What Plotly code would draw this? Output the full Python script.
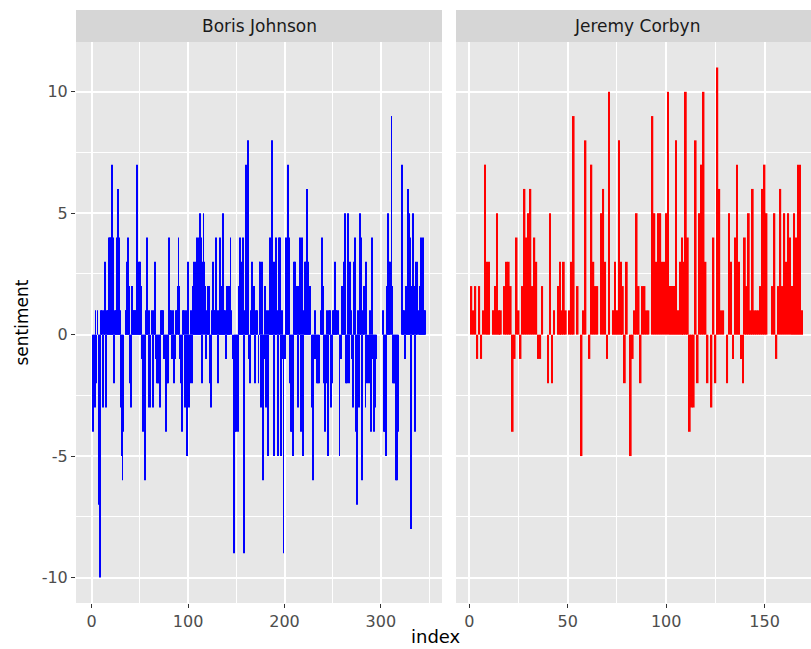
import plotly.graph_objects as go

# ---------------- data ----------------
facet_labels = ["Boris Johnson", "Jeremy Corbyn"]
bar_colors = ["blue", "red"]

boris_sentiment = [
    -4, -2, -3, 1, -2, 1, -3, -7, -10, 1,
    1, -3, 1, 3, -3, 1, 1, 4, 4, 4,
    7, 4, -2, 1, 1, 4, 6, 4, 1, -3,
    -5, -6, -4, 0, 1, 1, 3, 4, 2, -2,
    -3, 2, 1, 1, 1, 1, 7, 1, 3, 3,
    2, -1, -4, -1, -6, 1, 4, 1, -3, 1,
    -3, 1, 1, -3, 1, 3, -1, -2, -2, -2,
    -3, 1, 1, 1, -1, -1, -4, -2, -2, 4,
    1, 1, -1, 1,
    -2, -1, 1, 1, 2, 4,
    2, -1, -2, -4, 1, 1, -3, 1, -5, 3,
    -3, -2, 1, -2, 2, 3, 2, 3, 4, 3,
    4, 5, 4, -2, 3, 5, 3, 2, -1, 1,
    2, 2, -2, -3, 1, 3, 1, 1, 4, 1,
    -2, 1, 4, 2, 1, 5, 1, 1, -1, 2,
    1, 2, 2, 4, 1, -1, 0, -9, -4, -4,
    -3, -4, 2, 4, 3, 1, 4, -9, 1, 7,
    2, 8, -1, -2, 1, 3, 2, 2, -2, 1,
    1, 1, -2, 3, 3, -3, 3, -6, -1, 2,
    -3, 1, -5, 1, 4, 1, 8, 3, -5, 3,
    4, 1, -5, 4, 4, -5, 1, -1, -9, -1,
    -1, 4, 1, 7, 4, -2, -4, -4, -5, 3,
    3, 2, 2, -3, 2, 4, -4, 4, -5, 1,
    3, 3, 6, 3, 2, 2, 2, -3, -3, -6,
    -1, 1, -1, -2, -2, -2, 0, 1, 4, 2,
    -2, -4, -2, 1, -5, 1, 1, -3, -2, 1,
    1, 3, 1, 1, 1, 1, -5, -1, -1, 2,
    2, 3, 5, -2, -2, 5, -2, 3, 1, -1,
    -3, 3, 4, -4, -7, 1, -3, 5, 4, -6,
    1, 2, 2, -3, 3, -2, 0, -2, 1, -4,
    4, -1, -4, -3, -1, 0, 0, 0, 0, 0,
    0, 1, -4, -4, -5, 2, 5, 3, 3, 3,
    9, 2, -2, -2, -2, -6, -6, -4, 0, 0,
    0, 7, 1, 1, -1, 2, 1, 6, 5, 4,
    -8, 2, 5, 2, -4, 3, 2, 3, 1, 1,
    2, 4, 1, 4, 1, 1,
]

corbyn_sentiment = [
    2, 1, 2, -1, 2, -1, 1, 7, 3, 3,
    0, 1, 2, 5, 1, 1, 0, 2, 3, 3,
    2, -4, -1, 4, 1, -1, 2, 6, 4, 5,
    6, 2, 4, 3, -1, -1, 2, 0, 0, -2,
    5, -2, 1, 0, 2, 3, 1, 3, 1, 0,
    1, 3, 9, 0, 2, 0, -5, 1, 8, 0,
    -1, 7, 3, 2, 2, 0, 5, 6, 3, -1,
    10, 0, 1, 3, 1, 8, 3, 2, -2, 3,
    0, -5, -1, 1, 5, 2, -2, 2, 2, 1,
    1, 0, 9, 5, 3, 5, 5, 3, 3, 5,
    10, 2, 2, 2, 8, 1, 3, 4, 3, 10,
    4, -4, -3, -3, 8, -2, 5, 7, 10, 3,
    -2, 0, -3, 4, -2, 11, 6, 1, 1, 0,
    -2, 5, 3, -1, 4, 7, 3, -1, -2, 4,
    2, 5, 1, 6, 1, 1, 1, 2, 6, 7,
    5, 0, 0, 2, 5, -1, 2, 6, 2, 5,
    3, 5, 4, 2, 5, 4, 7, 7, 1,
]

boris_index = list(range(1, len(boris_sentiment) + 1))
corbyn_index = list(range(1, len(corbyn_sentiment) + 1))

y_tickvals = [-10, -5, 0, 5, 10]
y_ticktext = ["-10", "-5", "0", "5", "10"]
y_minorvals = [-7.5, -2.5, 2.5, 7.5]
boris_xticks = [0, 100, 200, 300]
corbyn_xticks = [0, 50, 100, 150]

# ---------------- geometry ----------------
W, H = 811, 649
L, R, T, B = 76, 0, 10, 46
PW, PH = W - L - R, H - T - B


def px_x(px):
    return (px - L) / PW


def px_y(py):
    return (H - B - py) / PH


panel_top = px_y(42)
FONT = "DejaVu Sans"
TICK_COL = "#4D4D4D"

fig = go.Figure()
fig.add_trace(go.Bar(
    x=boris_index, y=boris_sentiment, width=0.9,
    marker=dict(color=bar_colors[0], line=dict(width=0, color=bar_colors[0])),
    xaxis="x", yaxis="y", showlegend=False, name=facet_labels[0],
))
fig.add_trace(go.Bar(
    x=corbyn_index, y=corbyn_sentiment, width=0.9,
    marker=dict(color=bar_colors[1], line=dict(width=0, color=bar_colors[1])),
    xaxis="x2", yaxis="y2", showlegend=False, name=facet_labels[1],
))

common_x = dict(
    showline=False, zeroline=False, showgrid=True,
    gridcolor="white", gridwidth=1.6,
    ticks="outside", ticklen=4, tickwidth=1.1, tickcolor="#333333",
    tickfont=dict(family=FONT, size=16, color=TICK_COL),
    fixedrange=True,
)
common_y = dict(
    range=[-11.05, 12.05], showline=False, zeroline=False, showgrid=True,
    gridcolor="white", gridwidth=1.6,
    tickmode="array", tickvals=y_tickvals, ticktext=y_ticktext,
    minor=dict(tickmode="array", tickvals=y_minorvals, showgrid=True,
               gridcolor="white", gridwidth=0.8, ticks=""),
    domain=[0, panel_top], fixedrange=True,
)

fig.update_layout(
    width=W, height=H,
    margin=dict(l=L, r=R, t=T, b=B, pad=0),
    paper_bgcolor="white", plot_bgcolor="#E7E7E7",
    showlegend=False, barmode="overlay",
    xaxis=dict(
        domain=[0, px_x(442)], range=[-16.3, 363.4],
        tickmode="array", tickvals=boris_xticks,
        minor=dict(tickmode="array", tickvals=[50, 150, 250, 350], showgrid=True,
                   gridcolor="white", gridwidth=0.8, ticks=""),
        anchor="y", **common_x,
    ),
    xaxis2=dict(
        domain=[px_x(456), 1.0], range=[-6.8, 173.6],
        tickmode="array", tickvals=corbyn_xticks,
        minor=dict(tickmode="array", tickvals=[25, 75, 125, 175], showgrid=True,
                   gridcolor="white", gridwidth=0.8, ticks=""),
        anchor="y2", **common_x,
    ),
    yaxis=dict(
        anchor="x", ticks="outside", ticklen=4, tickwidth=1.1, tickcolor="#333333",
        tickfont=dict(family=FONT, size=16, color=TICK_COL),
        **common_y,
    ),
    yaxis2=dict(
        anchor="x2", matches="y", showticklabels=False, ticks="",
        **common_y,
    ),
)

# facet strips
for (x0, x1) in [(px_x(L), px_x(442)), (px_x(456), 1.0)]:
    fig.add_shape(type="rect", xref="paper", yref="paper",
                  x0=x0, x1=x1, y0=panel_top, y1=px_y(10),
                  fillcolor="#D6D6D6", line=dict(width=0), layer="below")

for label, cx in zip(facet_labels, [259, 637]):
    fig.add_annotation(text=label, xref="paper", yref="paper",
                       x=px_x(cx), y=px_y(26.5), showarrow=False,
                       xanchor="center", yanchor="middle",
                       font=dict(family=FONT, size=17, color="#1A1A1A"))

# axis titles
fig.add_annotation(text="index", xref="paper", yref="paper",
                   x=px_x(436), y=px_y(649), showarrow=False,
                   xanchor="center", yanchor="bottom",
                   font=dict(family=FONT, size=18, color="black"))
fig.add_annotation(text="sentiment", xref="paper", yref="paper",
                   x=px_x(21), y=px_y(322.5), showarrow=False, textangle=-90,
                   xanchor="center", yanchor="middle",
                   font=dict(family=FONT, size=17, color="black"))

fig.write_html("out.html", config={"displayModeBar": False},
               post_script="document.body.style.margin='0';")
